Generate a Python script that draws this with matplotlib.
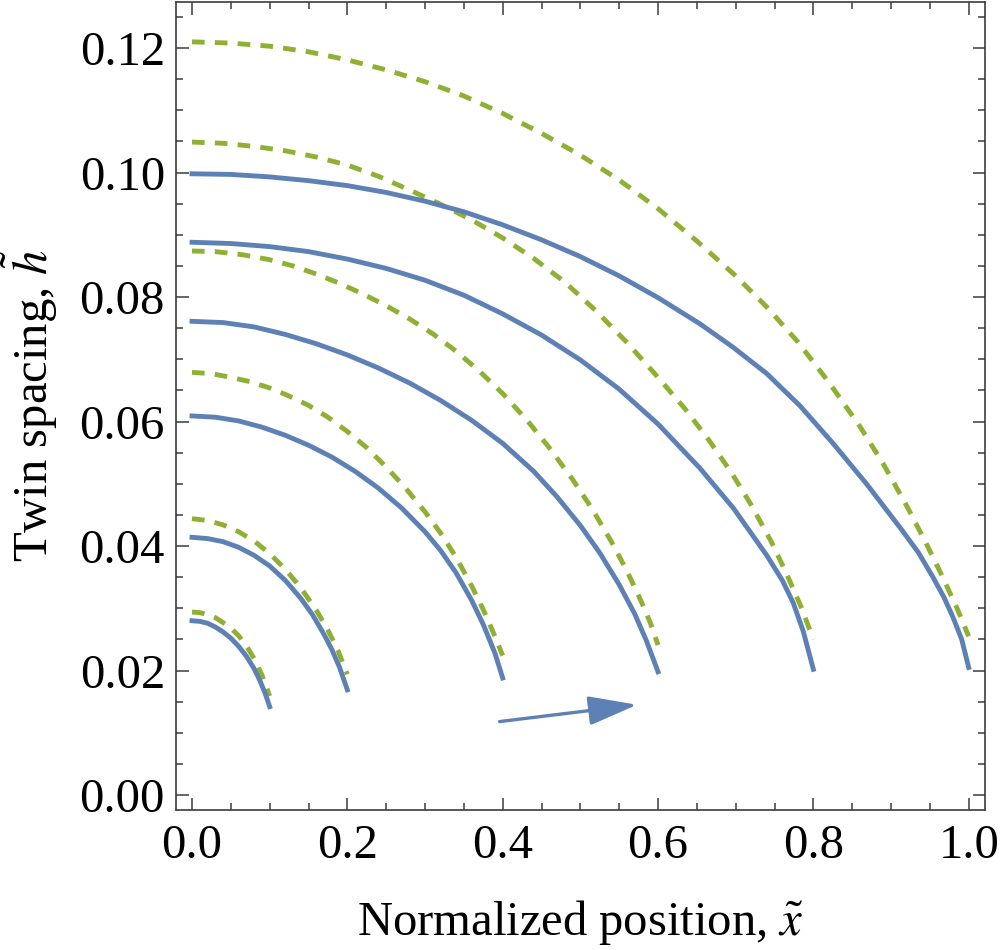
import matplotlib
matplotlib.use('Agg')
import matplotlib.pyplot as plt
from matplotlib.ticker import MultipleLocator

plt.rcParams['font.family'] = ['Liberation Serif', 'DejaVu Serif']
plt.rcParams['mathtext.fontset'] = 'stix'

# solid curves (blue), one per domain length
solid_01_x = [0, 0.01, 0.02, 0.03, 0.04, 0.05, 0.06, 0.07, 0.08, 0.087, 0.094, 0.1]
solid_01_y = [0.0280, 0.0279, 0.0276, 0.0270, 0.0262, 0.0252, 0.0239, 0.0223, 0.0203, 0.0185, 0.0164, 0.0142]
solid_02_x = [0, 0.02, 0.04, 0.06, 0.08, 0.1, 0.12, 0.14, 0.155, 0.17, 0.18, 0.19, 0.2]
solid_02_y = [0.0414, 0.0412, 0.0407, 0.0398, 0.0385, 0.0368, 0.0345, 0.0316, 0.0290, 0.0258, 0.0234, 0.0205, 0.0169]
solid_04_x = [0, 0.03, 0.06, 0.09, 0.12, 0.15, 0.18, 0.21, 0.24, 0.27, 0.3, 0.32, 0.34, 0.36, 0.375, 0.39, 0.4]
solid_04_y = [0.0609, 0.0607, 0.0601, 0.0591, 0.0578, 0.0562, 0.0543, 0.0520, 0.0493, 0.0461, 0.0423,
              0.0393, 0.0357, 0.0313, 0.0274, 0.0228, 0.0188]
solid_06_x = [0, 0.04, 0.08, 0.12, 0.16, 0.2, 0.24, 0.28, 0.32, 0.36, 0.4, 0.44, 0.47, 0.5, 0.525,
              0.55, 0.57, 0.585, 0.6]
solid_06_y = [0.0761, 0.0759, 0.0752, 0.0740, 0.0725, 0.0707, 0.0686, 0.0662, 0.0634, 0.0602, 0.0565,
              0.0520, 0.0479, 0.0433, 0.0389, 0.0338, 0.0291, 0.0248, 0.0198]
solid_08_x = [0, 0.05, 0.1, 0.15, 0.2, 0.25, 0.3, 0.35, 0.4, 0.45, 0.5, 0.55, 0.6, 0.654, 0.697,
              0.74, 0.76, 0.774, 0.787, 0.8]
solid_08_y = [0.0888, 0.0886, 0.0881, 0.0873, 0.0861, 0.0846, 0.0827, 0.0803, 0.0773, 0.0739, 0.0699,
              0.0652, 0.0596, 0.0525, 0.0461, 0.0385, 0.0345, 0.0309, 0.0263, 0.0202]
solid_10_x = [0, 0.05, 0.1, 0.15, 0.2, 0.25, 0.3, 0.35, 0.4, 0.45, 0.5, 0.55, 0.6, 0.654, 0.697,
              0.74, 0.783, 0.826, 0.869, 0.912, 0.935, 0.954, 0.968, 0.98, 0.991, 1.0]
solid_10_y = [0.0998, 0.0997, 0.0993, 0.0987, 0.0979, 0.0968, 0.0954, 0.0937, 0.0916, 0.0892, 0.0865,
              0.0834, 0.0799, 0.0757, 0.0719, 0.0677, 0.0625, 0.0564, 0.0499, 0.0429, 0.0390, 0.0350,
              0.0318, 0.0285, 0.0250, 0.0205]

# dashed curves (green)
dashed_01_x = [0, 0.01, 0.02, 0.03, 0.04, 0.05, 0.06, 0.07, 0.08, 0.09, 0.1]
dashed_01_y = [0.0294, 0.0293, 0.0290, 0.0285, 0.0277, 0.0268, 0.0256, 0.0240, 0.0219, 0.0193, 0.0159]
dashed_02_x = [0, 0.02, 0.04, 0.06, 0.08, 0.1, 0.12, 0.14, 0.16, 0.175, 0.188, 0.2]
dashed_02_y = [0.0444, 0.0441, 0.0434, 0.0423, 0.0408, 0.0388, 0.0363, 0.0333, 0.0297, 0.0265, 0.0232, 0.0194]
dashed_04_x = [0, 0.025, 0.05, 0.075, 0.1, 0.125, 0.15, 0.175, 0.2, 0.225, 0.25, 0.275, 0.3, 0.32,
               0.34, 0.36, 0.375, 0.39, 0.4]
dashed_04_y = [0.0679, 0.0677, 0.0671, 0.0664, 0.0654, 0.0641, 0.0626, 0.0607, 0.0584, 0.0558, 0.0527,
               0.0493, 0.0455, 0.0421, 0.0382, 0.0336, 0.0298, 0.0255, 0.0224]
dashed_06_x = [0, 0.03, 0.065, 0.1, 0.13, 0.16, 0.19, 0.22, 0.25, 0.28, 0.31, 0.34, 0.37, 0.4, 0.43,
               0.46, 0.49, 0.515, 0.54, 0.56, 0.578, 0.59, 0.6]
dashed_06_y = [0.0874, 0.0873, 0.0868, 0.0860, 0.0850, 0.0837, 0.0822, 0.0805, 0.0786, 0.0765, 0.0741,
               0.0713, 0.0681, 0.0645, 0.0604, 0.0558, 0.0507, 0.0460, 0.0407, 0.0360, 0.0312, 0.0277, 0.0241]
dashed_08_x = [0, 0.04, 0.08, 0.12, 0.16, 0.2, 0.24, 0.28, 0.32, 0.36, 0.4, 0.44, 0.48, 0.52, 0.56,
               0.6, 0.635, 0.665, 0.695, 0.72, 0.745, 0.765, 0.785, 0.8]
dashed_08_y = [0.1049, 0.1047, 0.1042, 0.1035, 0.1025, 0.1012, 0.0994, 0.0972, 0.0949, 0.0924, 0.0895,
               0.0862, 0.0824, 0.0778, 0.0727, 0.0671, 0.0620, 0.0571, 0.0517, 0.0466, 0.0409, 0.0357,
               0.0300, 0.0250]
dashed_10_x = [0, 0.05, 0.1, 0.15, 0.2, 0.25, 0.3, 0.35, 0.4, 0.45, 0.5, 0.55, 0.6, 0.65, 0.7, 0.74,
               0.78, 0.82, 0.86, 0.89, 0.92, 0.945, 0.965, 0.985, 1.0]
dashed_10_y = [0.1210, 0.1208, 0.1203, 0.1194, 0.1181, 0.1165, 0.1146, 0.1123, 0.1095, 0.1063, 0.1028,
               0.0988, 0.0942, 0.0890, 0.0834, 0.0784, 0.0728, 0.0663, 0.0592, 0.0532, 0.0465, 0.0405,
               0.0354, 0.0300, 0.0255]

arrow_start = (0.396, 0.0118)
arrow_end = (0.573, 0.0145)

blue = '#5E81B5'
green = '#8FB032'
frame = '#3c3c3c'

fig = plt.figure(figsize=(10, 9.5), dpi=100)
ax = fig.add_axes([0.176, 0.1474, 0.809, 0.8505])

solids = [(solid_01_x, solid_01_y), (solid_02_x, solid_02_y), (solid_04_x, solid_04_y),
          (solid_06_x, solid_06_y), (solid_08_x, solid_08_y), (solid_10_x, solid_10_y)]
dashes = [(dashed_01_x, dashed_01_y), (dashed_02_x, dashed_02_y), (dashed_04_x, dashed_04_y),
          (dashed_06_x, dashed_06_y), (dashed_08_x, dashed_08_y), (dashed_10_x, dashed_10_y)]

for xs, ys in dashes:
    ax.plot(xs, ys, color=green, lw=3.5, dashes=(2.6, 2.1), solid_joinstyle='round')
for xs, ys in solids:
    ax.plot(xs, ys, color=blue, lw=3.5, solid_joinstyle='round')

ax.annotate('', xy=arrow_end, xytext=arrow_start,
            arrowprops=dict(arrowstyle='-|>,head_length=3.0,head_width=0.9',
                            color=blue, lw=2.4, shrinkA=0, shrinkB=0,
                            mutation_scale=10))

ax.set_xlim(-0.0206, 1.021)
ax.set_ylim(-0.0024, 0.1274)

ax.xaxis.set_major_locator(MultipleLocator(0.2))
ax.xaxis.set_minor_locator(MultipleLocator(0.05))
ax.yaxis.set_major_locator(MultipleLocator(0.02))
ax.yaxis.set_minor_locator(MultipleLocator(0.005))
ax.xaxis.set_major_formatter(plt.FuncFormatter(lambda v, p: f'{v:.1f}'))
ax.yaxis.set_major_formatter(plt.FuncFormatter(lambda v, p: f'{v:.2f}'))

ax.tick_params(which='both', direction='in', top=True, right=True,
               color=frame, width=1.1, labelsize=35, labelcolor='black')
ax.tick_params(which='major', length=9)
ax.tick_params(which='minor', length=5)
ax.tick_params(axis='x', pad=10)
ax.tick_params(axis='y', pad=8)
for sp in ax.spines.values():
    sp.set_color(frame)
    sp.set_linewidth(1.2)

ax.set_xlabel(r'Normalized position, $\tilde{x}$', fontsize=35, labelpad=22)
ax.set_ylabel(r'Twin spacing, $\tilde{h}$', fontsize=35, labelpad=14)

fig.savefig('out.png', dpi=100)
